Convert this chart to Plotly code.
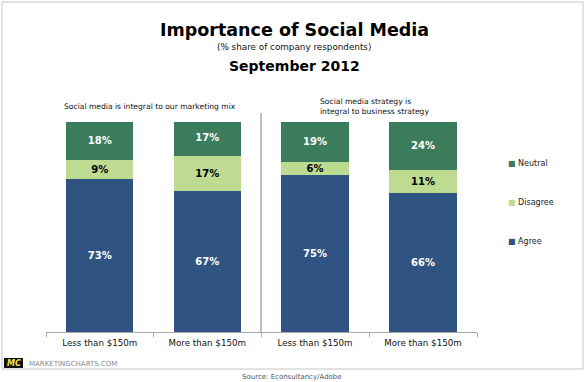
import plotly.graph_objects as go

# ---------------- data ----------------
categories = ["Less than $150m", "More than $150m"]
series_names = ["Agree", "Disagree", "Neutral"]
series_colors = ["#2F5482", "#BEDB92", "#3A7C5C"]
label_colors = ["white", "black", "white"]

marketing_agree = [73, 67]
marketing_disagree = [9, 17]
marketing_neutral = [18, 17]

business_agree = [75, 66]
business_disagree = [6, 11]
business_neutral = [19, 24]

panel_titles = ["Social media is integral to our marketing mix",
                "Social media strategy is<br>integral to business strategy"]

title = "Importance of Social Media"
subtitle = "(% share of company respondents)"
period = "September 2012"
source = "Source: Econsultancy/Adobe"
brand = "MARKETINGCHARTS.COM"

FONT = "DejaVu Sans"

# ---------------- layout helpers ----------------
W, H = 585, 382
L, R, T, B = 46, 477, 122, 332   # plot area in pixels
PW, PH = R - L, B - T


def px(x):
    return (x - L) / PW


def py(y):
    return (B - y) / PH


fig = go.Figure()

panels = [
    ("x", "y", [marketing_agree, marketing_disagree, marketing_neutral]),
    ("x2", "y2", [business_agree, business_disagree, business_neutral]),
]

for xa, ya, vals in panels:
    for name, color, lc, v in zip(series_names, series_colors, label_colors, vals):
        fig.add_trace(go.Bar(
            x=categories, y=v, name=name, xaxis=xa, yaxis=ya,
            marker=dict(color=color, line=dict(width=0)),
            texttemplate="<b>%{y}%</b>", textposition="inside",
            insidetextanchor="middle", textangle=0,
            textfont=dict(family=FONT, size=10, color=lc),
            showlegend=False, hoverinfo="skip",
        ))

split = (261 - L) / PW
axis_common = dict(
    type="category", showline=True, linecolor="#A8A8A8", linewidth=1,
    ticks="outside", tickson="boundaries", ticklen=4, tickcolor="#A8A8A8",
    ticklabelstandoff=3,
    showgrid=False, zeroline=False,
    tickfont=dict(family=FONT, size=8.7, color="#111111"),
)
yaxis_common = dict(range=[0, 100], visible=False, fixedrange=True)

fig.update_layout(
    width=W, height=H,
    margin=dict(l=L, r=W - R, t=T, b=H - B, pad=0),
    paper_bgcolor="white", plot_bgcolor="white",
    barmode="stack", bargap=0.378,
    showlegend=False,
    xaxis=dict(domain=[0, split], anchor="y", **axis_common),
    xaxis2=dict(domain=[split, 1], anchor="y2", **axis_common),
    yaxis=dict(domain=[0, 1], anchor="x", **yaxis_common),
    yaxis2=dict(domain=[0, 1], anchor="x2", **yaxis_common),
    uniformtext=dict(minsize=10, mode="show"),
)

shapes = [
    # outer frame
    dict(type="rect", xref="paper", yref="paper",
         x0=px(2), x1=px(583), y0=py(369), y1=py(2),
         line=dict(color="#C4C4C4", width=1), layer="below"),
    # panel divider
    dict(type="line", xref="paper", yref="paper",
         x0=split, x1=split, y0=py(333), y1=py(113),
         line=dict(color="#A8A8A8", width=1.5)),
    # brand badge
    dict(type="rect", xref="paper", yref="paper",
         x0=px(4), x1=px(23), y0=py(368), y1=py(358),
         fillcolor="#111111", line=dict(width=0)),
]

annotations = [
    dict(text=f"<b>{title}</b>", x=px(294), y=py(30),
         font=dict(family=FONT, size=17.5, color="#000000")),
    dict(text=subtitle, x=px(294), y=py(47),
         font=dict(family=FONT, size=8.8, color="#111111")),
    dict(text=f"<b>{period}</b>", x=px(294), y=py(66),
         font=dict(family=FONT, size=14, color="#000000")),
    dict(text=panel_titles[0], x=px(62), y=py(106), xanchor="left",
         font=dict(family=FONT, size=7.6, color="#111111")),
    dict(text=panel_titles[1], x=px(318), y=py(106), xanchor="left", align="left",
         font=dict(family=FONT, size=7.6, color="#111111")),
    dict(text="<b><i>MC</i></b>", x=px(13.5), y=py(363.5),
         font=dict(family=FONT, size=8, color="#F2E64A")),
    dict(text=brand, x=px(27), y=py(363.5), xanchor="left",
         font=dict(family=FONT, size=7, color="#8A8A8A")),
    dict(text=source, x=px(292), y=py(377),
         font=dict(family=FONT, size=7, color="#555555")),
]

# legend (top: Neutral, middle: Disagree, bottom: Agree)
legend_y = {"Neutral": 163, "Disagree": 202, "Agree": 241}
for name, color in zip(series_names, series_colors):
    annotations.append(dict(
        text=f"<span style='color:{color}'>■</span> {name}",
        x=px(506), y=py(legend_y[name]), xanchor="left",
        font=dict(family=FONT, size=8, color="#222222")))

for a in annotations:
    a.setdefault("xref", "paper")
    a.setdefault("yref", "paper")
    a.setdefault("showarrow", False)
    a.setdefault("yanchor", "middle")
    a.setdefault("xanchor", "center")

fig.update_layout(shapes=shapes, annotations=annotations)

fig.write_html(
    "out.html",
    config={"displayModeBar": False},
    post_script="document.body.style.margin='0';document.body.style.overflow='hidden';",
)
